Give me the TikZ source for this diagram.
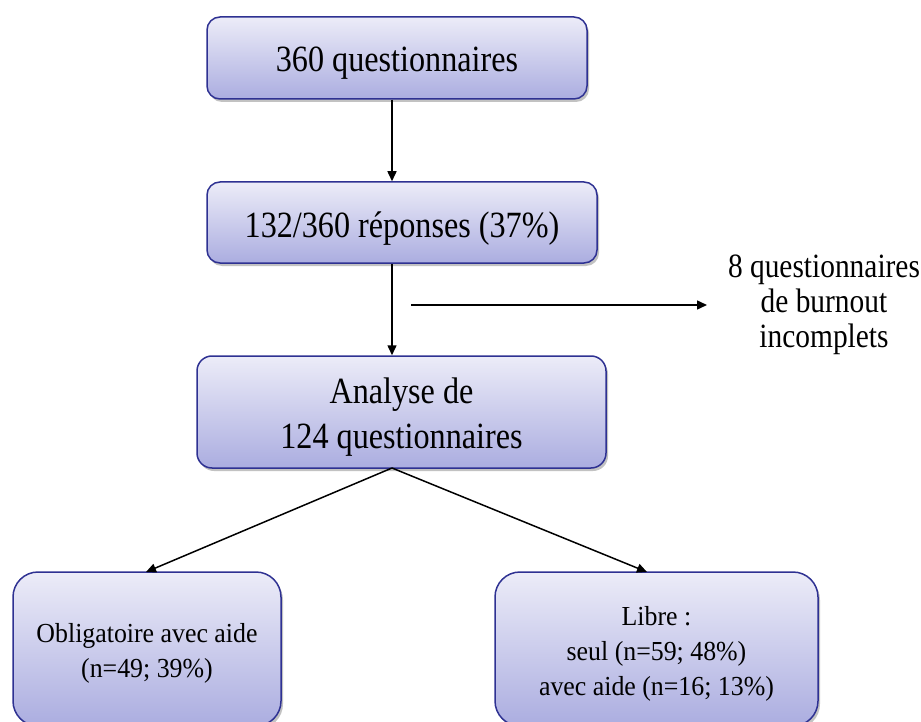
\documentclass[tikz,border=0pt]{standalone}
\usepackage{fontspec}
\setmainfont{Liberation Serif}
\newfontfamily\condA[FakeStretch=0.87]{Liberation Serif}
\newfontfamily\condB[FakeStretch=0.865]{Liberation Serif}
\newfontfamily\condC[FakeStretch=0.94]{Liberation Serif}
\newcommand\hstrut[1]{\rule{0pt}{#1}}
\usetikzlibrary{shadows,arrows.meta}
\definecolor{bordblue}{HTML}{2E3192}
\definecolor{topfill}{HTML}{ECECF8}
\definecolor{botfill}{HTML}{ABADE0}
\tikzset{
  box/.style={draw=bordblue, line width=1.5pt, top color=topfill, bottom color=botfill,
    rounded corners=13pt, inner sep=0pt, align=center,
    drop shadow={shadow xshift=2pt, shadow yshift=-3pt, opacity=0.4, fill=black!60}},
  bigtxt/.style={font=\condA\fontsize{37}{45}\selectfont},
  smalltxt/.style={font=\condC\fontsize{27.5}{35}\selectfont},
  conn/.style={line width=1.5pt, -{Triangle[length=10pt,width=9pt]}},
}
\begin{document}
\begin{tikzpicture}[x=1pt,y=-1pt]
\useasboundingbox (0,0) rectangle (921,722);
\node[box, bigtxt, minimum width=380pt, minimum height=82pt] (b1) at (397,58) {\hstrut{34pt}360 questionnaires};
\node[box, bigtxt, minimum width=390pt, minimum height=81pt] (b2) at (402,222.5) {\hstrut{37pt}132/360 réponses (37\%)};
\node[box, bigtxt, minimum width=409pt, minimum height=112pt, rounded corners=15pt] (b3) at (401.5,412) {\hstrut{35pt}Analyse de\\124 questionnaires};
\node[box, smalltxt, minimum width=268pt, minimum height=154pt, rounded corners=25pt] (bl) at (147,649) {\hstrut{27pt}Obligatoire avec aide\\(n=49; 39\%)};
\node[box, smalltxt, minimum width=323pt, minimum height=154pt, rounded corners=25pt] (br) at (656.5,649) {\hstrut{28pt}Libre :\\seul (n=59; 48\%)\\avec aide (n=16; 13\%)};
\node[align=center, font=\condB\fontsize{34}{35}\selectfont] (ex) at (824,305) {8 questionnaires\\de burnout\\incomplets};
\coordinate (hs) at (411,305);
\coordinate (he) at (707,305);
\coordinate (b3s) at (392,468);
\coordinate (blt) at (146,572);
\coordinate (brt) at (647,572);
\draw[conn] (b1.south -| 392,0) -- (b2.north -| 392,0);
\draw[conn] (b2.south -| 392,0) -- (b3.north -| 392,0);
\draw[conn] (hs) -- (he);
\draw[conn] (b3s) -- (blt);
\draw[conn] (b3s) -- (brt);
\end{tikzpicture}
\end{document}
